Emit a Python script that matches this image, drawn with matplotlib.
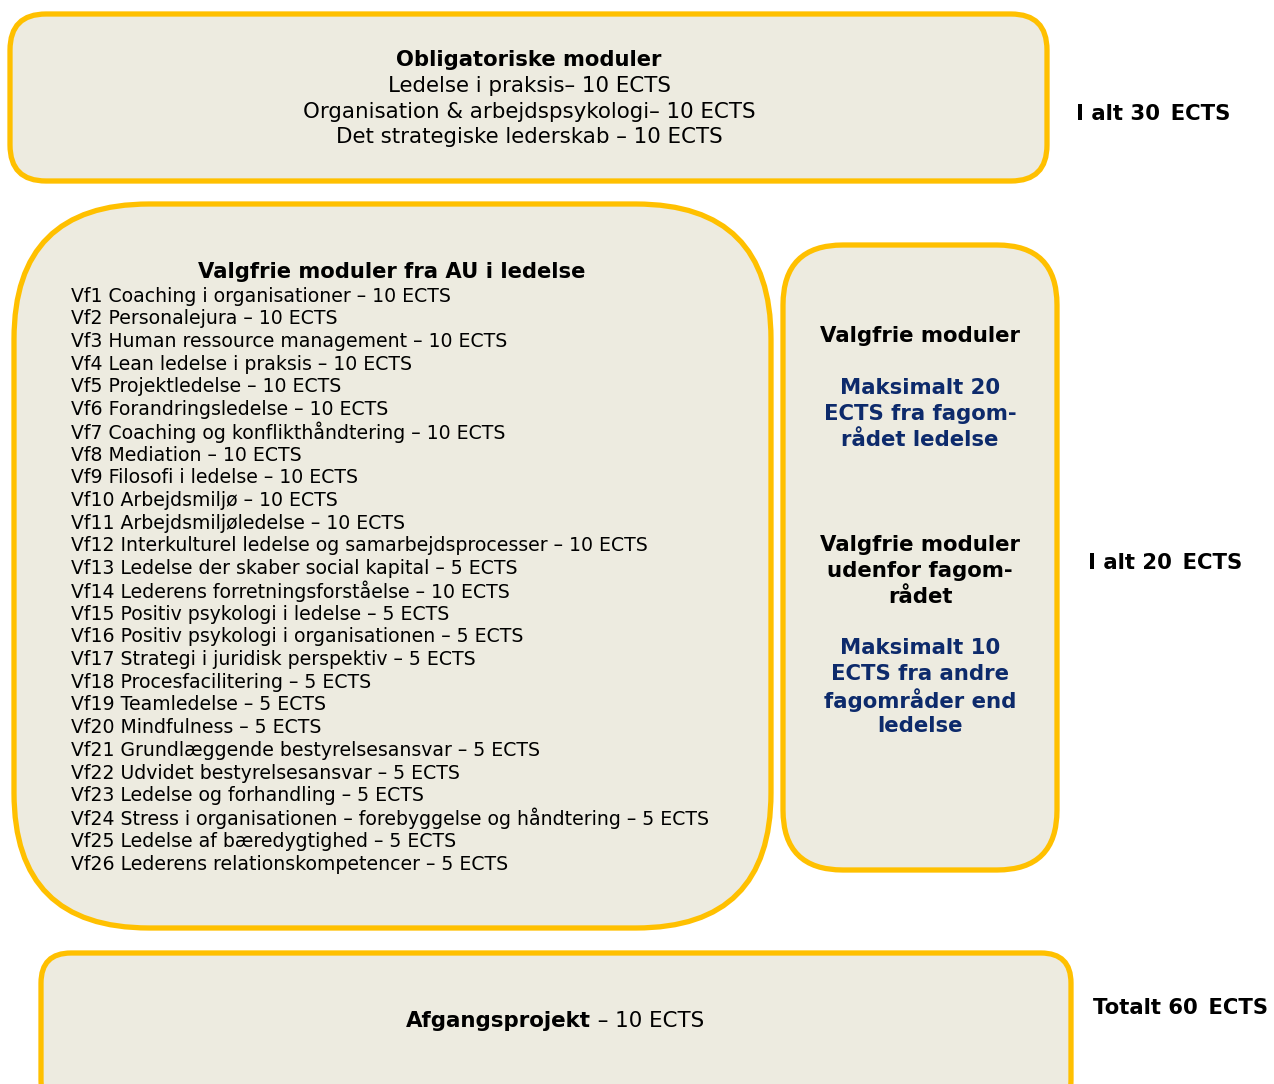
import matplotlib
matplotlib.use("Agg")
import matplotlib.pyplot as plt
from matplotlib.patches import FancyBboxPatch

FILL = "#EDEBE0"
EDGE = "#FFC000"
BLUE = "#0D2A6B"

OBLIG_TITLE = "Obligatoriske moduler"
OBLIG_LINES = ["Ledelse i praksis– 10 ECTS",
               "Organisation & arbejdspsykologi– 10 ECTS",
               "Det strategiske lederskab – 10 ECTS"]

VALG_TITLE = "Valgfrie moduler fra AU i ledelse"
VALG_LINES = [
    "Vf1 Coaching i organisationer – 10 ECTS",
    "Vf2 Personalejura – 10 ECTS",
    "Vf3 Human ressource management – 10 ECTS",
    "Vf4 Lean ledelse i praksis – 10 ECTS",
    "Vf5 Projektledelse – 10 ECTS",
    "Vf6 Forandringsledelse – 10 ECTS",
    "Vf7 Coaching og konflikthåndtering – 10 ECTS",
    "Vf8 Mediation – 10 ECTS",
    "Vf9 Filosofi i ledelse – 10 ECTS",
    "Vf10 Arbejdsmiljø – 10 ECTS",
    "Vf11 Arbejdsmiljøledelse – 10 ECTS",
    "Vf12 Interkulturel ledelse og samarbejdsprocesser – 10 ECTS",
    "Vf13 Ledelse der skaber social kapital – 5 ECTS",
    "Vf14 Lederens forretningsforståelse – 10 ECTS",
    "Vf15 Positiv psykologi i ledelse – 5 ECTS",
    "Vf16 Positiv psykologi i organisationen – 5 ECTS",
    "Vf17 Strategi i juridisk perspektiv – 5 ECTS",
    "Vf18 Procesfacilitering – 5 ECTS",
    "Vf19 Teamledelse – 5 ECTS",
    "Vf20 Mindfulness – 5 ECTS",
    "Vf21 Grundlæggende bestyrelsesansvar – 5 ECTS",
    "Vf22 Udvidet bestyrelsesansvar – 5 ECTS",
    "Vf23 Ledelse og forhandling – 5 ECTS",
    "Vf24 Stress i organisationen – forebyggelse og håndtering – 5 ECTS",
    "Vf25 Ledelse af bæredygtighed – 5 ECTS",
    "Vf26 Lederens relationskompetencer – 5 ECTS",
]

# right box: (lines, colour) blocks
SIDE_BLOCKS = [
    (["Valgfrie moduler"], "black"),
    (["Maksimalt 20", "ECTS fra fagom-", "rådet ledelse"], BLUE),
    (["Valgfrie moduler", "udenfor fagom-", "rådet"], "black"),
    (["Maksimalt 10", "ECTS fra andre", "fagområder end", "ledelse"], BLUE),
]

TOTALS = ["I alt 30\u2002ECTS", "I alt 20\u2002ECTS", "Totalt 60\u2002ECTS"]
PROJECT = ("Afgangsprojekt", " – 10 ECTS")

W, H = 1274, 1084
fig = plt.figure(figsize=(W / 100, H / 100), dpi=100)
ax = fig.add_axes([0, 0, 1, 1])
ax.set_xlim(0, W)
ax.set_ylim(H, 0)
ax.axis("off")


def box(x0, y0, x1, y1, r):
    ax.add_patch(FancyBboxPatch((x0, y0), x1 - x0, y1 - y0,
                                boxstyle=f"round,pad=0,rounding_size={r}",
                                fc=FILL, ec=EDGE, lw=3.8, clip_on=False))


# top box
box(10, 14, 1047, 181, 36)
ax.text(529, 60, OBLIG_TITLE, ha="center", va="center", fontsize=15.2,
        fontweight="bold")
for i, s in enumerate(OBLIG_LINES):
    ax.text(529, 86 + i * 25.5, s, ha="center", va="center", fontsize=15.4)
ax.text(1076, 114, TOTALS[0], ha="left", va="center", fontsize=15.3,
        fontweight="bold")

# left big box
box(14, 204, 771, 928, 135)
ax.text(392, 272, VALG_TITLE, ha="center", va="center", fontsize=15.2,
        fontweight="bold")
for i, s in enumerate(VALG_LINES):
    ax.text(71, 296 + i * 22.72, s, ha="left", va="center", fontsize=13.6)

# right box
box(783, 245, 1057, 870, 60)
side_y = [336, 388, 545, 648]
for (lines, c), y in zip(SIDE_BLOCKS, side_y):
    for j, ln in enumerate(lines):
        ax.text(920, y + j * 26, ln, ha="center", va="center", color=c,
                fontsize=15.3, fontweight="bold")
ax.text(1088, 563, TOTALS[1], ha="left", va="center", fontsize=15.3,
        fontweight="bold")

# bottom box
box(41, 953, 1071, 1110, 30)
ax.text(591, 1021, PROJECT[0], ha="right", va="center", fontsize=15.4,
        fontweight="bold")
ax.text(591, 1021, PROJECT[1], ha="left", va="center", fontsize=15.4)
ax.text(1093, 1008, TOTALS[2], ha="left", va="center", fontsize=15.2,
        fontweight="bold")

fig.savefig("out.png", dpi=100)
